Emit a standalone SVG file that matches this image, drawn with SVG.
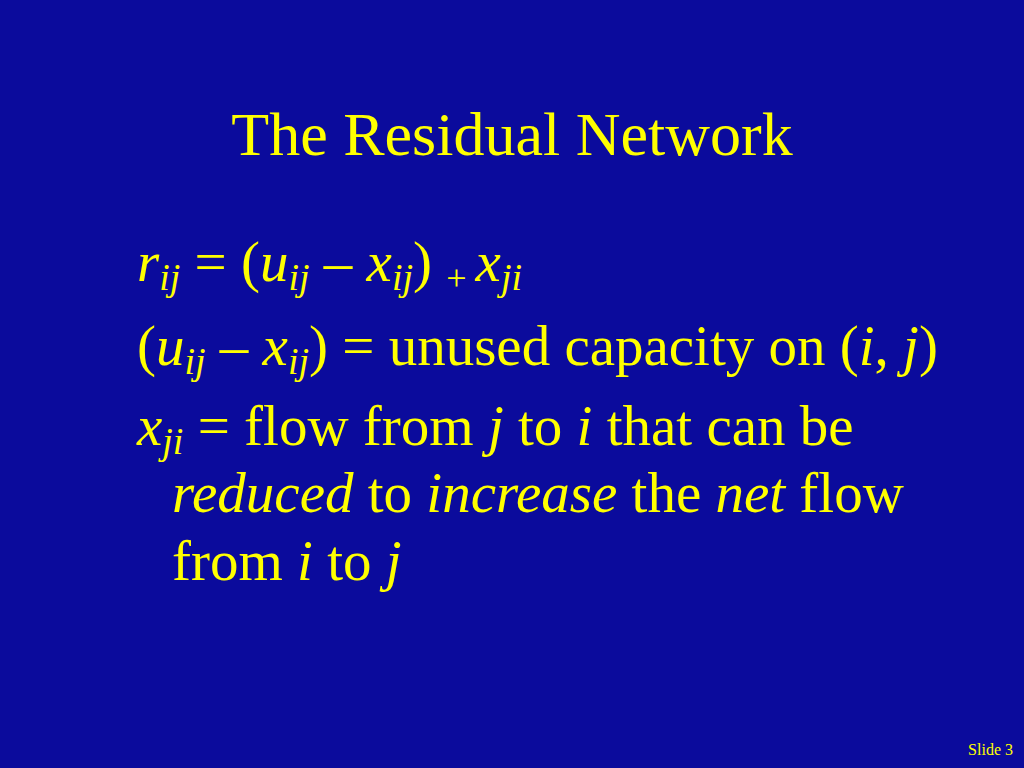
<svg xmlns="http://www.w3.org/2000/svg" width="1024" height="768" viewBox="0 0 1024 768">
<style>
text{font-family:"Liberation Serif","Times New Roman",serif;fill:#FFFF00}
.t{font-size:62px}
.b{font-size:57px}
.i{font-style:italic}
.s{font-size:38px;font-style:italic}
.p{font-size:36px}
.n{font-size:16px}
</style>
<rect width="1024" height="768" fill="#0B0B9C"/>
<text class="t" x="512" y="155" text-anchor="middle">The Residual Network</text>
<text class="b" x="137" y="281"><tspan class="i">r</tspan><tspan class="s" dy="9">ij</tspan><tspan dy="-9"> = (</tspan><tspan class="i">u</tspan><tspan class="s" dy="9">ij</tspan><tspan dy="-9"> – </tspan><tspan class="i">x</tspan><tspan class="s" dy="9">ij</tspan><tspan dy="-9">) </tspan><tspan class="p" dy="9">+ </tspan><tspan class="i" dy="-9">x</tspan><tspan class="s" dy="9">ji</tspan></text>
<text class="b" x="137" y="365">(<tspan class="i">u</tspan><tspan class="s" dy="9">ij</tspan><tspan dy="-9"> – </tspan><tspan class="i">x</tspan><tspan class="s" dy="9">ij</tspan><tspan dy="-9">) = unused capacity on (</tspan><tspan class="i">i</tspan>, <tspan class="i">j</tspan>)</text>
<text class="b" x="137" y="445"><tspan class="i">x</tspan><tspan class="s" dy="9">ji</tspan><tspan dy="-9"> = flow from </tspan><tspan class="i">j</tspan> to <tspan class="i">i</tspan> that can be</text>
<text class="b" x="172" y="512"><tspan class="i">reduced</tspan> to <tspan class="i">increase</tspan> the <tspan class="i">net</tspan> flow</text>
<text class="b" x="172" y="580">from <tspan class="i">i</tspan> to <tspan class="i">j</tspan></text>
<text class="n" x="1013" y="755" text-anchor="end">Slide 3</text>
</svg>
